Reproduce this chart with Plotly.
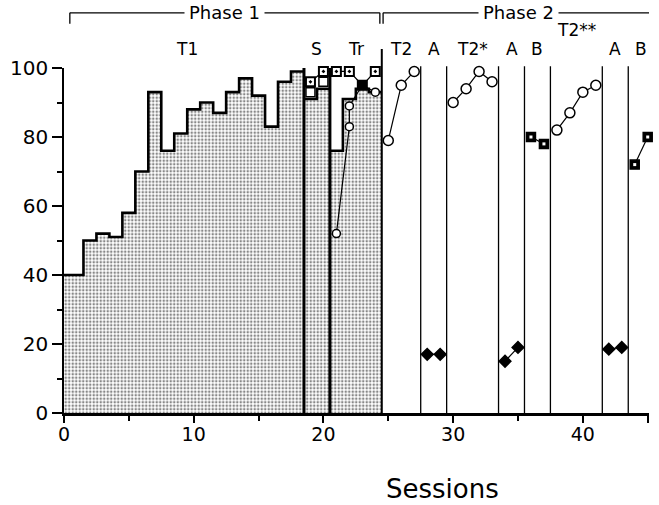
import plotly.graph_objects as go

# ---- data -------------------------------------------------------------
# Phase 1, T1: percent correct per session (stippled histogram)
t1_sessions = list(range(1, 19))
t1_pct = [40, 50, 52, 51, 58, 70, 93, 76, 81, 88, 90, 87, 93, 97, 92, 83, 96, 99]
# Phase 1, S and Tr histogram sessions
s_sessions = [19, 20]
s_pct = [91, 94]
tr_sessions = [21, 22, 23, 24]
tr_pct = [76, 91, 94, 93]
# probe squares during S / Tr
probe_sessions = [19, 20, 21, 22, 23, 24]
probe_pct = [96, 99, 99, 99, 95, 99]
open_sq_sessions = [19, 20]
open_sq_pct = [93, 96]
# transfer circles during Tr
tr_circ_sessions = [21, 22, 22, 23, 24]
tr_circ_pct = [52, 83, 89, 95, 93]

# Phase 2
t2_sessions, t2_pct = [25, 26, 27], [79, 95, 99]
a1_sessions, a1_pct = [28, 29], [17, 17]
t2s_sessions, t2s_pct = [30, 31, 32, 33], [90, 94, 99, 96]
a2_sessions, a2_pct = [34, 35], [15, 19]
b1_sessions, b1_pct = [36, 37], [80, 78]
t2ss_sessions, t2ss_pct = [38, 39, 40, 41], [82, 87, 93, 95]
a3_sessions, a3_pct = [42, 43], [18.5, 19]
b2_sessions, b2_pct = [44, 45], [72, 80]

# condition labels: (label, first session, last session, row)
conditions = [
    ("T1", 1, 18, 0), ("S", 19, 20, 0), ("Tr", 21, 24, 0),
    ("T2", 25, 27, 0), ("A", 28, 29, 0), ("T2*", 30, 33, 0),
    ("A", 34, 35, 0), ("B", 36, 37, 0), ("T2**", 38, 41, 1),
    ("A", 42, 43, 0), ("B", 44, 45, 0),
]

x_ticks = [0, 10, 20, 30, 40, 45]
y_ticks = [0, 20, 40, 60, 80, 100]
Y_MAX = 100

FONT = "DejaVu Sans"
fig = go.Figure()


def hist(sessions, pct, start_at_zero=False):
    left = [s - 0.5 for s in sessions]
    right = [s + 0.5 for s in sessions]
    if start_at_zero:
        left[0] = 0
    centers = [(l + r) / 2 for l, r in zip(left, right)]
    widths = [r - l for l, r in zip(left, right)]
    fig.add_trace(go.Bar(
        x=centers, y=pct, width=widths,
        marker=dict(color="white", line=dict(width=0),
                    pattern=dict(shape=".", fgcolor="#111", bgcolor="white",
                                 size=3.5, solidity=0.42)),
        hoverinfo="skip", showlegend=False))
    # step outline along the bar tops
    fig.add_trace(go.Scatter(
        x=left + [right[-1]], y=pct + [pct[-1]], mode="lines",
        line=dict(color="black", width=2.6, shape="hv"),
        hoverinfo="skip", showlegend=False))


hist(t1_sessions, t1_pct, start_at_zero=True)
hist(s_sessions, s_pct)
hist(tr_sessions, tr_pct)


def series(x, y, symbol, size, fill, lw=1.5, line=True):
    fig.add_trace(go.Scatter(
        x=x, y=y, mode="lines+markers" if line else "markers",
        line=dict(color="black", width=1.2),
        marker=dict(symbol=symbol, size=size, color=fill,
                    line=dict(color="black", width=lw)),
        cliponaxis=False, showlegend=False))


# Phase 1 probe marks
series(open_sq_sessions, open_sq_pct, "square", 9, "white", line=False)
series(tr_circ_sessions, tr_circ_pct, "circle", 8, "white")
series(probe_sessions, probe_pct, "square-dot", 9,
       ["white", "white", "white", "white", "black", "white"], lw=2)

# Phase 2 series
for xs, ys in [(t2_sessions, t2_pct), (t2s_sessions, t2s_pct), (t2ss_sessions, t2ss_pct)]:
    series(xs, ys, "circle", 10, "white")
for xs, ys in [(a1_sessions, a1_pct), (a2_sessions, a2_pct), (a3_sessions, a3_pct)]:
    series(xs, ys, "diamond", 9, "black")
for xs, ys in [(b1_sessions, b1_pct), (b2_sessions, b2_pct)]:
    series(xs, ys, "square", 9, "black")
    series(xs, ys, "square", 3, "white", lw=0, line=False)


def py(v):
    """data percent -> paper y (range 0..Y_MAX fills the plot height)"""
    return v / Y_MAX


# condition-change lines
shapes = []
for lab, first, last, row in conditions[:-1]:
    xb = last + 0.5
    if xb in (18.5, 20.5):
        w, top = 3, 100
    elif xb == 24.5:
        w, top = 2, 105.5
    else:
        w, top = 1.3, 100.5
    shapes.append(dict(type="line", xref="x", yref="paper", x0=xb, x1=xb,
                       y0=0, y1=py(top), line=dict(color="black", width=w)))

# phase brackets
phase_split = 24.5
bracket_y = 116.0
brackets = [("Phase 1", 0.45, phase_split - 0.15), ("Phase 2", phase_split + 0.1, 45.5)]
annotations = []
for name, xa, xb in brackets:
    shapes.append(dict(type="line", xref="x", yref="paper", x0=xa, x1=xb,
                       y0=py(bracket_y), y1=py(bracket_y),
                       line=dict(color="black", width=1.3)))
    for xe in (xa, xb):
        shapes.append(dict(type="line", xref="x", yref="paper", x0=xe, x1=xe,
                           y0=py(bracket_y), y1=py(bracket_y - 3.2),
                           line=dict(color="black", width=1.3)))
    annotations.append(dict(x=(xa + xb) / 2, y=py(bracket_y), xref="x", yref="paper",
                            text=name, showarrow=False, bgcolor="white",
                            yanchor="middle",
                            font=dict(family=FONT, size=18, color="black"),
                            borderpad=4))

for lab, first, last, row in conditions:
    xc = (first + last) / 2
    yc = 105.4 if row == 0 else 111.0
    annotations.append(dict(x=xc, y=py(yc), xref="x", yref="paper", text=lab,
                            showarrow=False, yanchor="middle",
                            font=dict(family=FONT, size=17, color="black")))

annotations.append(dict(x=29.2, y=-0.22, xref="x", yref="paper",
                        text="Sessions", showarrow=False, yanchor="middle",
                        font=dict(family=FONT, size=26, color="black")))

fig.update_layout(
    width=659, height=505,
    margin=dict(l=64, r=10, t=68, b=92),
    paper_bgcolor="white", plot_bgcolor="white",
    bargap=0, barmode="overlay",
    shapes=shapes, annotations=annotations,
    font=dict(family=FONT, color="black"),
)
fig.update_xaxes(
    range=[0, 45.1], tickvals=x_ticks, ticktext=[str(v) for v in x_ticks],
    ticks="outside", ticklen=7, tickwidth=1.5, tickcolor="black",
    ticklabelstandoff=-5,
    minor=dict(dtick=5, tick0=0, ticklen=5, tickwidth=1.5, tickcolor="black", ticks="outside"),
    showline=True, linecolor="black", linewidth=2.5, showgrid=False, zeroline=False,
    tickfont=dict(family=FONT, size=19, color="black"),
)
fig.update_yaxes(
    range=[0, Y_MAX], tickvals=y_ticks, ticktext=[str(v) for v in y_ticks],
    ticks="outside", ticklen=10, tickwidth=1.5, tickcolor="black",
    minor=dict(dtick=10, tick0=0, ticklen=5, tickwidth=1.5, tickcolor="black", ticks="outside"),
    showline=True, linecolor="black", linewidth=1.5, showgrid=False, zeroline=False,
    tickfont=dict(family=FONT, size=20, color="black"),
)

fig.write_html("out.html")
